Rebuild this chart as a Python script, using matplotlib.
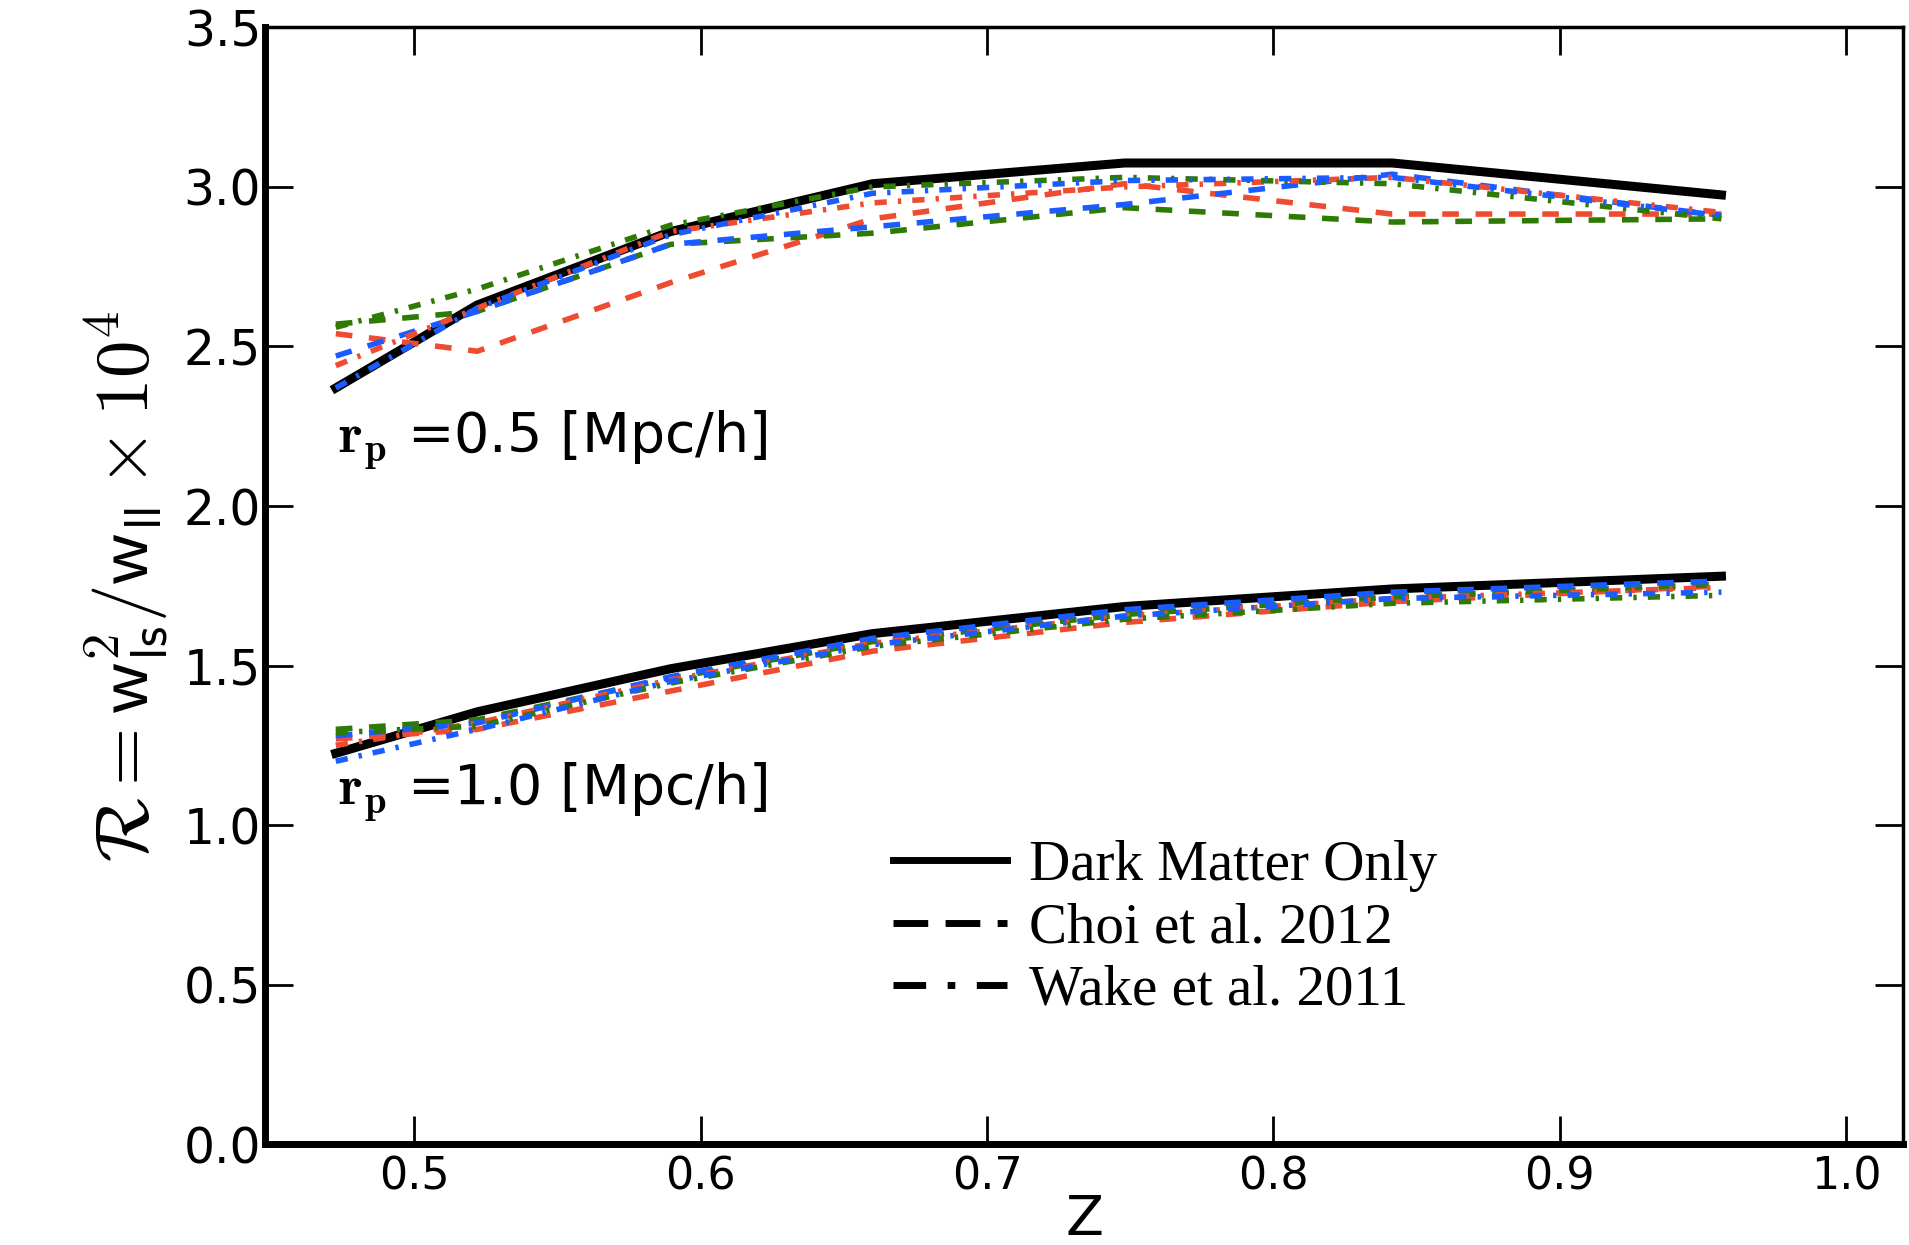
import numpy as np
import matplotlib.pyplot as plt
from matplotlib.lines import Line2D

plt.rcParams['mathtext.fontset'] = 'cm'
plt.rcParams['font.family'] = 'DejaVu Sans'

# redshift samples
z = [0.4726, 0.522, 0.5895, 0.660, 0.748, 0.8415, 0.9565]

# r_p = 0.5 Mpc/h
up_dm = [2.37, 2.63, 2.86, 3.01, 3.075, 3.075, 2.975]
up_choi_red = [2.54, 2.485, 2.70, 2.90, 3.01, 2.915, 2.915]
up_choi_green = [2.57, 2.61, 2.82, 2.855, 2.935, 2.89, 2.90]
up_choi_blue = [2.47, 2.61, 2.82, 2.875, 2.945, 3.04, 2.91]
up_wake_red = [2.44, 2.62, 2.86, 2.95, 3.00, 3.03, 2.92]
up_wake_green = [2.56, 2.68, 2.88, 3.00, 3.03, 3.01, 2.90]
up_wake_blue = [2.37, 2.62, 2.85, 2.98, 3.02, 3.03, 2.91]

# r_p = 1.0 Mpc/h
lo_dm = [1.225, 1.355, 1.49, 1.60, 1.685, 1.74, 1.78]
lo_choi_red = [1.27, 1.30, 1.42, 1.545, 1.635, 1.70, 1.75]
lo_choi_green = [1.30, 1.33, 1.46, 1.575, 1.66, 1.715, 1.755]
lo_choi_blue = [1.28, 1.32, 1.465, 1.585, 1.675, 1.73, 1.765]
lo_wake_red = [1.25, 1.32, 1.455, 1.57, 1.655, 1.71, 1.745]
lo_wake_green = [1.29, 1.31, 1.445, 1.56, 1.645, 1.695, 1.72]
lo_wake_blue = [1.20, 1.30, 1.45, 1.565, 1.655, 1.71, 1.73]

red = '#ee4b30'
green = '#2e7a05'
blue = '#1a5cff'

dash = (0, (3, 3))
dashdot = (0, (2.2, 2, 0.6, 2))

fig = plt.figure(figsize=(19.09, 12.45), dpi=100)
ax = fig.add_axes([0.139, 0.081, 0.858, 0.897])

for dm, cr, cg, cb, wr, wg, wb in [
        (up_dm, up_choi_red, up_choi_green, up_choi_blue, up_wake_red, up_wake_green, up_wake_blue),
        (lo_dm, lo_choi_red, lo_choi_green, lo_choi_blue, lo_wake_red, lo_wake_green, lo_wake_blue)]:
    ax.plot(z, dm, color='k', lw=6.5, zorder=2)
    ax.plot(z, cr, color=red, lw=4, ls=dash, zorder=3)
    ax.plot(z, cg, color=green, lw=4, ls=dash, zorder=3)
    ax.plot(z, cb, color=blue, lw=4, ls=dash, zorder=3)
    ax.plot(z, wr, color=red, lw=4, ls=dashdot, zorder=3)
    ax.plot(z, wg, color=green, lw=4, ls=dashdot, zorder=3)
    ax.plot(z, wb, color=blue, lw=4, ls=dashdot, zorder=3)

ax.set_xlim(0.448, 1.02)
ax.set_ylim(0, 3.5)
ax.set_xticks([0.5, 0.6, 0.7, 0.8, 0.9, 1.0])
ax.set_yticks([0.0, 0.5, 1.0, 1.5, 2.0, 2.5, 3.0, 3.5])

for s in ['left', 'bottom']:
    ax.spines[s].set_linewidth(5)
for s in ['top', 'right']:
    ax.spines[s].set_linewidth(2.5)

ax.tick_params(direction='in', length=20, width=2, top=True, right=True)
ax.tick_params(axis='x', pad=8, labelsize=32)
ax.tick_params(axis='y', pad=3, labelsize=35)

ax.set_xlabel('Z', fontsize=40, labelpad=-4)
ax.set_ylabel(r'$\mathcal{R}=\mathsf{w}_{\mathsf{ls}}^{\mathsf{2}}/\mathsf{w}_{\mathsf{ll}}\times\mathsf{10}^{\mathsf{4}}$',
              fontsize=54, labelpad=10)

ax.text(0.4732, 2.166, r'$\mathbf{r_p}$ =0.5 [Mpc/h]', fontsize=40, va='baseline')
ax.text(0.4732, 1.062, r'$\mathbf{r_p}$ =1.0 [Mpc/h]', fontsize=40, va='baseline')

handles = [Line2D([], [], color='k', lw=5, ls='-'),
           Line2D([], [], color='k', lw=5, ls=(0, (5, 2.5))),
           Line2D([], [], color='k', lw=5, ls=(0, (4.7, 3.1, 1.1, 3.1)))]
labels = ['Dark Matter Only', 'Choi et al. 2012', 'Wake et al. 2011']
ax.legend(handles, labels, loc='upper left', bbox_to_anchor=(0.383, 0.272),
          frameon=False, borderpad=0, borderaxespad=0, handlelength=2.0,
          handletextpad=0.4, labelspacing=0.18,
          prop={'family': 'Liberation Serif', 'size': 41})

fig.savefig('out.png', dpi=100)
